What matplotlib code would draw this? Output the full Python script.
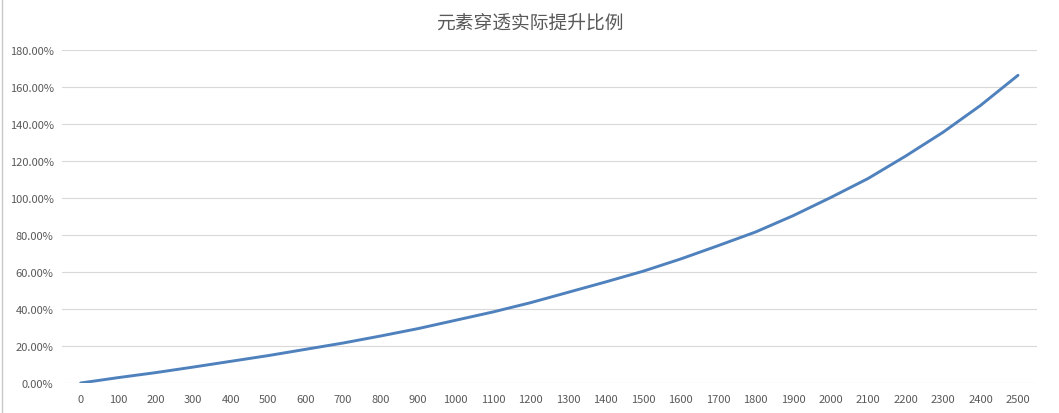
import matplotlib
matplotlib.use('Agg')

import matplotlib.pyplot as plt
from matplotlib.ticker import FuncFormatter

plt.rcParams['font.family'] = ['Noto Sans CJK SC', 'DejaVu Sans']

TITLE = "元素穿透实际提升比例"

# ---------- data ----------
categories = [str(v) for v in range(0, 2600, 100)]
lift_pct = [0.0, 2.9, 5.6, 8.6, 11.7, 14.8, 18.2, 21.6, 25.4, 29.4,
            33.9, 38.4, 43.4, 49.0, 54.6, 60.4, 67.0, 74.2, 81.6, 90.4,
            100.2, 110.5, 122.6, 135.5, 150.0, 166.3]
y_ticks = list(range(0, 200, 20))

fig = plt.figure(figsize=(10.59, 4.14), dpi=100)
ax = fig.add_axes([0.0585, 0.0725, 0.9205, 0.8045])

x = list(range(len(categories)))
ax.plot(x, lift_pct, color="#4F81BD", linewidth=2.1, solid_capstyle="round")

ax.set_xlim(-0.5, len(categories) - 0.5)
ax.set_ylim(0, 180)
ax.set_yticks(y_ticks)
ax.yaxis.set_major_formatter(FuncFormatter(lambda v, p: "%.2f%%" % v))
ax.set_xticks(x)
ax.set_xticklabels(categories)

ax.grid(axis="y", color="#D9D9D9", linewidth=0.8)
ax.set_axisbelow(True)
for s in ax.spines.values():
    s.set_visible(False)
ax.tick_params(length=0, labelsize=8, colors="#595959", pad=8)
ax.tick_params(axis="y", pad=6)

fig.text(0.5, 0.945, TITLE, ha="center", va="center", fontsize=13.5, color="#595959")

# thin frame on the left edge like the screenshot
fig.add_artist(plt.Line2D([0.002, 0.002], [0, 1], color="#C8C8C8", linewidth=1))

fig.savefig("out.png", dpi=100)
plt.close(fig)
